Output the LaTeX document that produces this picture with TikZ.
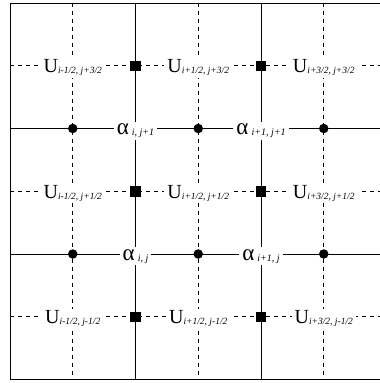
\documentclass[tikz,border=0pt]{standalone}
\usepackage{fontspec}
\setmainfont{Liberation Serif}
\usetikzlibrary{positioning}
\newcommand{\ulab}[1]{{\fontsize{20}{20}\selectfont U}{\fontsize{9.5}{10}\selectfont\itshape\raisebox{-1pt}{#1}}}
\newcommand{\alab}[1]{{\fontsize{23}{23}\selectfont α}\hspace{3pt}{\fontsize{10}{10}\selectfont\itshape\raisebox{-1pt}{#1}}}

\begin{document}
\begin{tikzpicture}[
  x=62.75pt, y=-62.75pt,
  frame/.style={line width=1pt},
  solidline/.style={line width=0.8pt},
  dashline/.style={line width=0.8pt, dash pattern=on 4pt off 4pt},
  dot/.style={circle, fill=black, inner sep=0pt, minimum size=9.5pt},
  sq/.style={rectangle, fill=black, inner sep=0pt, minimum size=10.5pt},
  ulabel/.style={fill=white, inner xsep=3pt, inner ysep=2pt, anchor=base, yshift=-7pt},
  alabel/.style={fill=white, inner xsep=3pt, inner ysep=2pt, anchor=base, yshift=-6pt},
]
\useasboundingbox (-0.1594,-0.0478) rectangle (5.8805,6.0558);

% =================== frame and grid ===================
\draw[frame] (0,0) rectangle (6,6);
\foreach \k in {1,3,5} {
  \draw[dashline] (\k,0) -- (\k,6);
  \draw[dashline] (0,\k) -- (6,\k);
}
\foreach \k in {2,4} {
  \draw[solidline] (\k,0) -- (\k,6);
  \draw[solidline] (0,\k) -- (6,\k);
}

% =================== markers ===================
\foreach \k in {1,3,5} \foreach \m in {2,4} { \node[dot] (c\k\m) at (\k,\m) {}; }
\foreach \k in {2,4} \foreach \m in {1,3,5} { \node[sq] (s\k\m) at (\k,\m) {}; }

% =================== U labels ===================
\node[ulabel] (u11) at (1,1) {\ulab{i-1/2, j+3/2}};
\node[ulabel] (u31) at (3,1) {\ulab{i+1/2, j+3/2}};
\node[ulabel] (u51) at (5,1) {\ulab{i+3/2, j+3/2}};
\node[ulabel] (u13) at (1,3) {\ulab{i-1/2, j+1/2}};
\node[ulabel] (u33) at (3,3) {\ulab{i+1/2, j+1/2}};
\node[ulabel] (u53) at (5,3) {\ulab{i+3/2, j+1/2}};
\node[ulabel] (u15) at (1,5) {\ulab{i-1/2, j-1/2}};
\node[ulabel] (u35) at (3,5) {\ulab{i+1/2, j-1/2}};
\node[ulabel] (u55) at (5,5) {\ulab{i+3/2, j-1/2}};

% =================== alpha labels ===================
\node[alabel] (a22) at (2,2) {\alab{i, j+1}};
\node[alabel] (a42) at (4,2) {\alab{i+1, j+1}};
\node[alabel] (a24) at (2,4) {\alab{i, j}};
\node[alabel] (a44) at (4,4) {\alab{i+1, j}};
\end{tikzpicture}
\end{document}
